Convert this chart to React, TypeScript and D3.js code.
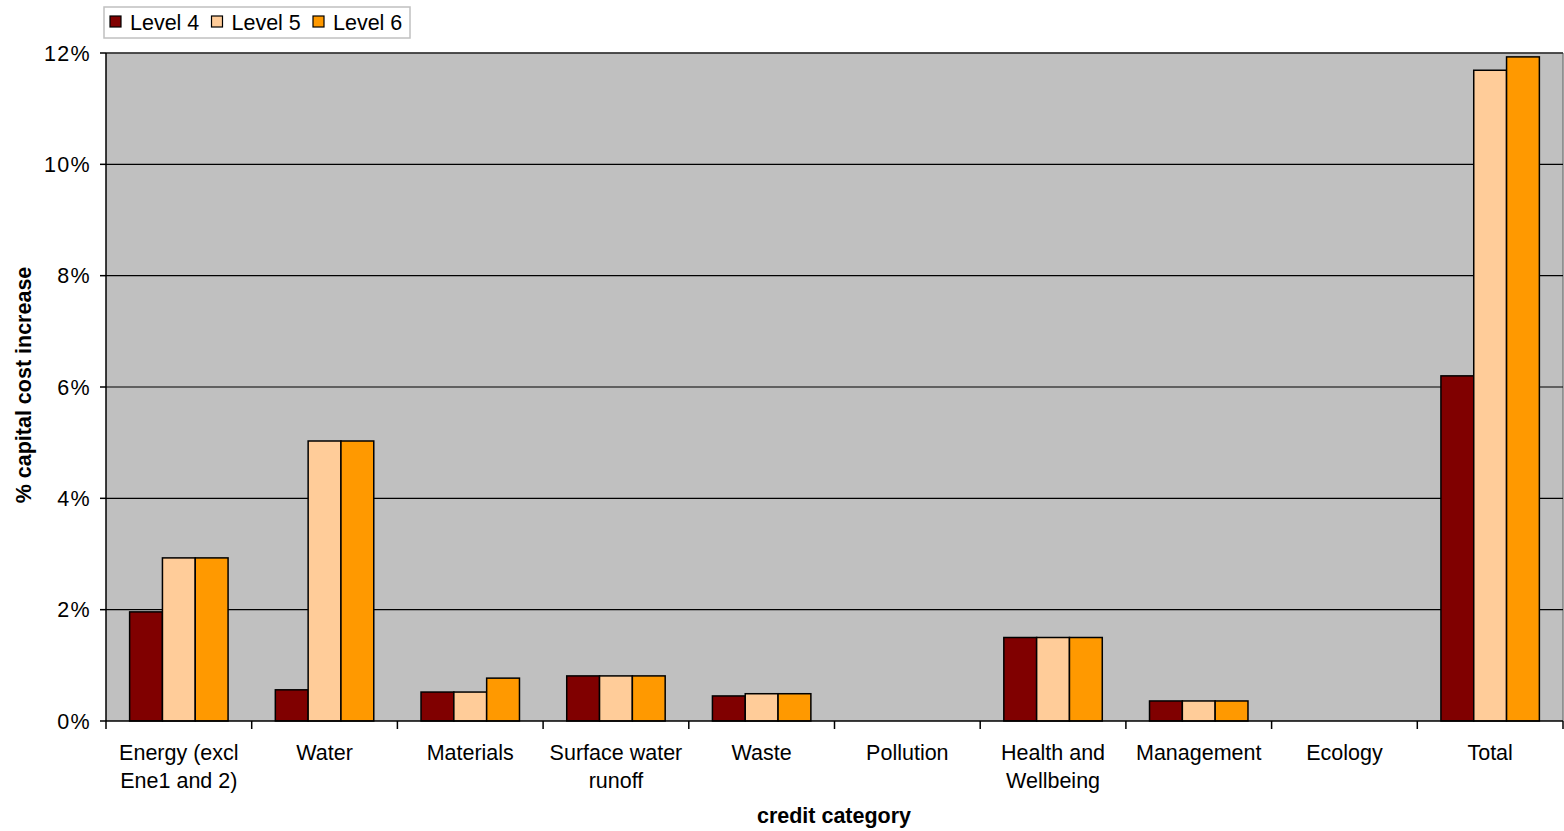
import React from "react";
import * as d3 from "d3";

const categories: string[][] = [
  ["Energy (excl", "Ene1 and 2)"],
  ["Water"],
  ["Materials"],
  ["Surface water", "runoff"],
  ["Waste"],
  ["Pollution"],
  ["Health and", "Wellbeing"],
  ["Management"],
  ["Ecology"],
  ["Total"],
];
const seriesNames = ["Level 4", "Level 5", "Level 6"];
const level4 = [1.96, 0.56, 0.52, 0.81, 0.45, 0, 1.5, 0.36, 0, 6.2];
const level5 = [2.93, 5.03, 0.52, 0.81, 0.49, 0, 1.5, 0.36, 0, 11.69];
const level6 = [2.93, 5.03, 0.77, 0.81, 0.49, 0, 1.5, 0.36, 0, 11.93];
const yTicks = [0, 2, 4, 6, 8, 10, 12];
const colors = ["#800000", "#FFCC99", "#FF9900"];

const W = 1564;
const H = 831;
const M = { left: 106, right: 1563, top: 53, bottom: 721 };
const FONT = "'Liberation Sans', Arial, sans-serif";
const FS = 21.5;

export default function App() {
  const series = [level4, level5, level6];
  const keys = categories.map((_, i) => String(i));
  const x = d3.scaleBand<string>().domain(keys).range([M.left, M.right]).paddingInner(0).paddingOuter(0);
  const inner = d3
    .scaleBand<string>()
    .domain(seriesNames)
    .range([0, x.bandwidth()])
    .paddingInner(0)
    .paddingOuter(0.72);
  const y = d3.scaleLinear().domain([0, 12]).range([M.bottom, M.top]);

  return (
    <svg
      width={W}
      height={H}
      style={{ position: "absolute", left: 0, top: 0, background: "#fff" }}
      fontFamily={FONT}
    >
      <rect x={M.left} y={M.top} width={M.right - M.left} height={M.bottom - M.top} fill="#C0C0C0" />
      <line x1={M.left} x2={M.right} y1={M.top} y2={M.top} stroke="#808080" strokeWidth={1.5} />
      <line x1={M.right} x2={M.right} y1={M.top} y2={M.bottom} stroke="#808080" strokeWidth={1.5} />
      {yTicks.slice(1).map((t) => (
        <line key={t} x1={M.left} x2={M.right} y1={y(t)} y2={y(t)} stroke="#000" strokeWidth={1.2} />
      ))}
      {categories.map((_, ci) =>
        series.map((vals, si) => {
          const v = vals[ci];
          if (v <= 0) return null;
          const bx = (x(String(ci)) as number) + (inner(seriesNames[si]) as number);
          return (
            <rect
              key={ci + "-" + si}
              x={bx}
              y={y(v)}
              width={inner.bandwidth()}
              height={y(0) - y(v)}
              fill={colors[si]}
              stroke="#000"
              strokeWidth={1.5}
            />
          );
        })
      )}
      <line x1={M.left} x2={M.left} y1={M.top} y2={M.bottom} stroke="#000" strokeWidth={1.5} />
      {yTicks.map((t) => (
        <g key={t}>
          <line x1={M.left - 6} x2={M.left} y1={y(t)} y2={y(t)} stroke="#000" strokeWidth={1.5} />
          <text x={91} y={y(t)} dy="0.35em" textAnchor="end" fontSize={FS} letterSpacing={1.3} fill="#000">
            {t + "%"}
          </text>
        </g>
      ))}
      <line x1={M.left} x2={M.right} y1={M.bottom} y2={M.bottom} stroke="#000" strokeWidth={1.5} />
      {d3.range(categories.length + 1).map((i) => {
        const xx = i < categories.length ? (x(String(i)) as number) : M.right;
        return <line key={i} x1={xx} x2={xx} y1={M.bottom} y2={M.bottom + 8} stroke="#000" strokeWidth={1.5} />;
      })}
      {categories.map((lines, ci) => {
        const cx = (x(String(ci)) as number) + x.bandwidth() / 2;
        return (
          <text key={ci} x={cx} y={760} textAnchor="middle" fontSize={FS} fill="#000">
            {lines.map((l, li) => (
              <tspan key={li} x={cx} dy={li === 0 ? 0 : 28}>
                {l}
              </tspan>
            ))}
          </text>
        );
      })}
      <text x={834} y={823} textAnchor="middle" fontSize={FS} fontWeight="bold" fill="#000">
        credit category
      </text>
      <text
        transform={`translate(31, 385) rotate(-90)`}
        textAnchor="middle"
        fontSize={FS}
        fontWeight="bold"
        fill="#000"
      >
        % capital cost increase
      </text>
      <rect x={104} y={7} width={306} height={31} fill="#fff" stroke="#C0C0C0" strokeWidth={1.5} />
      {seriesNames.map((s, i) => {
        const lx = 110 + i * 101.5;
        return (
          <g key={s}>
            <rect x={lx} y={16} width={11} height={11} fill={colors[i]} stroke="#000" strokeWidth={1.2} />
            <text x={lx + 20} y={30} fontSize={FS} fill="#000">
              {s}
            </text>
          </g>
        );
      })}
    </svg>
  );
}
